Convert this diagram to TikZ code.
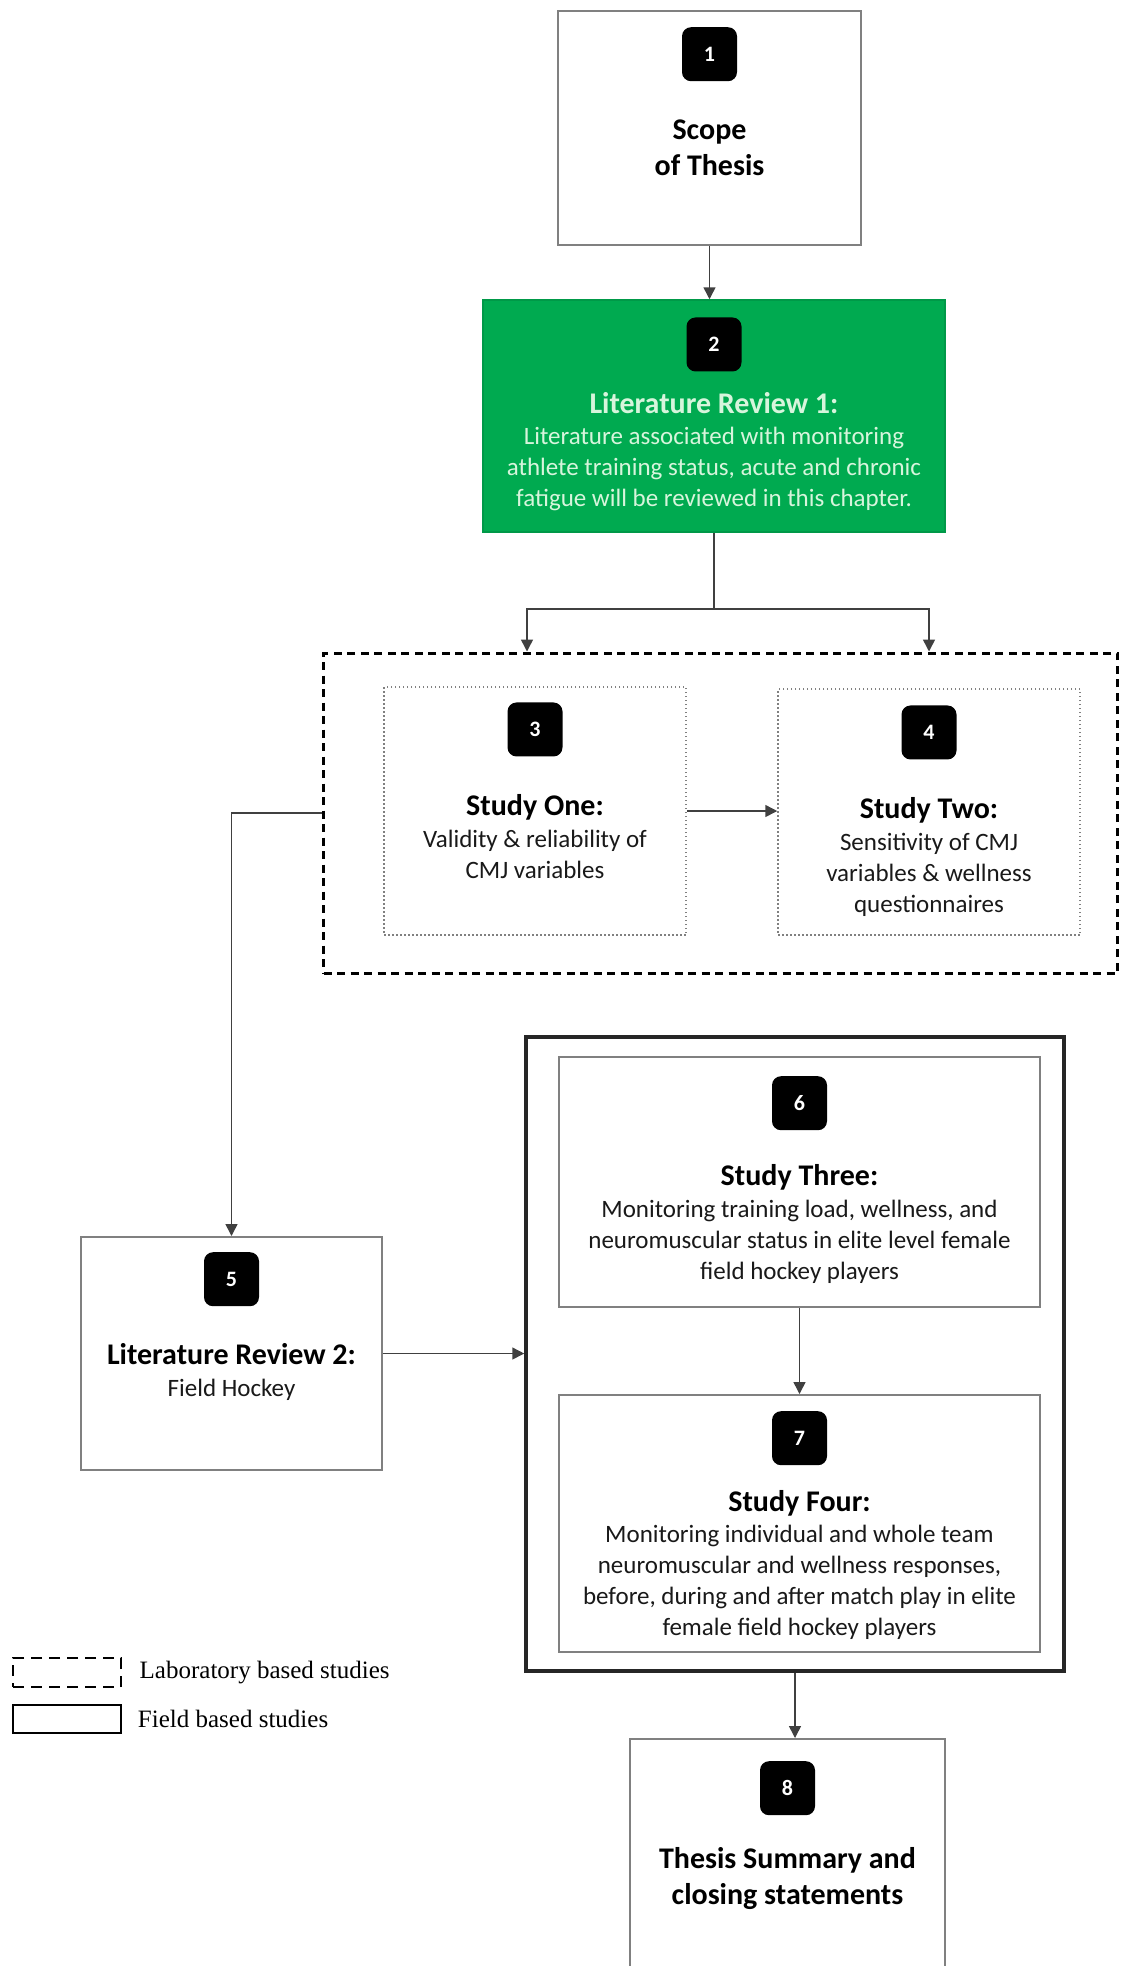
\documentclass[tikz,border=0pt]{standalone}
\usepackage{fontspec}
\setmainfont{Carlito}
\newfontfamily\legendfont{Liberation Serif}
\usetikzlibrary{positioning}
\usetikzlibrary{arrows.meta}
\tikzset{>={Triangle[width=12pt,length=12pt]}}
\definecolor{lrgreen}{RGB}{0,170,80}
\definecolor{lrtext}{RGB}{215,245,220}
\definecolor{boxgray}{RGB}{128,128,128}

\begin{document}
\begin{tikzpicture}[x=1pt, y=-1pt, box/.style={rectangle, draw=boxgray, line width=2pt, fill=white}, greenbox/.style={rectangle, draw=lrgreen!90!black, line width=1.5pt, fill=lrgreen}, dotbox/.style={rectangle, draw=boxgray, line width=1.5pt, dash pattern=on 1.5pt off 2.5pt}, labbox/.style={rectangle, draw=black, line width=3pt, dash pattern=on 8pt off 5.5pt}, fieldbox/.style={rectangle, draw=black!85, line width=3.5pt}, badge/.style={rectangle, rounded corners=9pt, fill=black, text=white, minimum width=55pt, minimum height=54pt, inner sep=0pt, font=\bfseries\fontsize{22}{26}\selectfont}, title/.style={inner sep=0pt, text height=21pt, text depth=6pt, font=\bfseries\fontsize{30}{36}\selectfont}, bigtitle/.style={inner sep=0pt, align=center, font=\bfseries\fontsize{30}{36}\selectfont}, body/.style={inner sep=0pt, align=center, text=black!90, font=\fontsize{25}{31}\selectfont}, labkey/.style={rectangle, draw=black, line width=2pt, dash pattern=on 11pt off 7pt, minimum width=108pt, minimum height=29pt}, fieldkey/.style={rectangle, draw=black, line width=2.5pt, minimum width=108pt, minimum height=28pt}, legend/.style={inner sep=0pt, font=\legendfont\fontsize{25}{30}\selectfont}, link/.style={draw=black!75, line width=1.5pt}]

    \useasboundingbox (0,0) rectangle (1121,1966);

    %Boxes
    \node[box, minimum width=303pt, minimum height=234pt](scope) at (709.5,128) {};
    \node[greenbox, minimum width=462pt, minimum height=232pt](lr1) at (714,416) {};
    \node[labbox, minimum width=794pt, minimum height=320pt](lab) at (720.5,813) {};
    \node[dotbox, minimum width=302pt, minimum height=248pt](s1) at (535,811) {};
    \node[dotbox, minimum width=302pt, minimum height=246pt](s2) at (929,812) {};
    \node[box, minimum width=301pt, minimum height=233pt](lr2) at (231.5,1353.5) {};
    \node[fieldbox, minimum width=538pt, minimum height=634pt](field) at (795,1354) {};
    \node[box, minimum width=481pt, minimum height=250pt](s3) at (799.5,1182) {};
    \node[box, minimum width=481pt, minimum height=257pt](s4) at (799.5,1523.5) {};
    \node[box, minimum width=315pt, minimum height=250pt](summ) at (787.5,1864) {};

    %Badges
    \node[badge](n1)[below=17pt of scope.north]{1};
    \node[badge](n2)[below=18pt of lr1.north]{2};
    \node[badge](n3)[below=16pt of s1.north]{3};
    \node[badge](n4)[below=17pt of s2.north]{4};
    \node[badge](n5)[below=16pt of lr2.north]{5};
    \node[badge](n6)[below=20pt of s3.north]{6};
    \node[badge](n7)[below=17pt of s4.north]{7};
    \node[badge](n8)[below=23pt of summ.north]{8};

    %Texts
    \node[bigtitle](scopetext)[below=38pt of n1]{Scope\\of Thesis};
    \node[title, text=lrtext](lr1title)[below=21pt of n2]{Literature Review 1:};
    \node[body, text=lrtext](lr1text)[below=7pt of lr1title]{Literature associated with monitoring\\athlete training status, acute and chronic\\fatigue will be reviewed in this chapter.};
    \node[title](s1title)[below=37.5pt of n3]{Study One:};
    \node[body](s1text)[below=8pt of s1title]{Validity \& reliability of\\CMJ variables};
    \node[title](s2title)[below=37.5pt of n4]{Study Two:};
    \node[body](s2text)[below=8pt of s2title]{Sensitivity of CMJ\\variables \& wellness\\questionnaires};
    \node[title](lr2title)[below=36.5pt of n5]{Literature Review 2:};
    \node[body](lr2text)[below=9pt of lr2title]{Field Hockey};
    \node[title](s3title)[below=34pt of n6]{Study Three:};
    \node[body](s3text)[below=8.5pt of s3title]{Monitoring training load, wellness, and\\neuromuscular status in elite level female\\field hockey players};
    \node[title](s4title)[below=24.5pt of n7]{Study Four:};
    \node[body](s4text)[below=7.5pt of s4title]{Monitoring individual and whole team\\neuromuscular and wellness responses,\\before, during and after match play in elite\\female field hockey players};
    \node[bigtitle](summtext)[below=31.5pt of n8]{Thesis Summary and\\closing statements};

    %Legend
    \node[labkey](labkeybox) at (67,1672.5) {};
    \node[legend](labkeytext)[right=17.5pt of labkeybox]{Laboratory based studies};
    \node[fieldkey](fieldkeybox) at (67,1719) {};
    \node[legend](fieldkeytext)[right=15.5pt of fieldkeybox]{Field based studies};

    %Lines
    \coordinate[below=76pt of lr1.south](fork);
    \draw[link, ->] (scope.south) -- (scope.south |- lr1.north);
    \draw[link] (lr1.south) -- (fork);
    \draw[link, ->] (fork) -| ([xshift=-8pt]s1.north |- lab.north);
    \draw[link, ->] (fork) -| (s2.north |- lab.north);
    \draw[link, ->] (s1.east) -- (s1.east -| s2.west);
    \draw[link, ->] (lab.west) -| (lr2.north);
    \draw[link, ->] (lr2.east) -- (lr2.east -| field.west);
    \draw[link, ->] (s3.south) -- (s4.north);
    \draw[link, ->] (field.south) -- (field.south |- summ.north);

\end{tikzpicture}
\end{document}
